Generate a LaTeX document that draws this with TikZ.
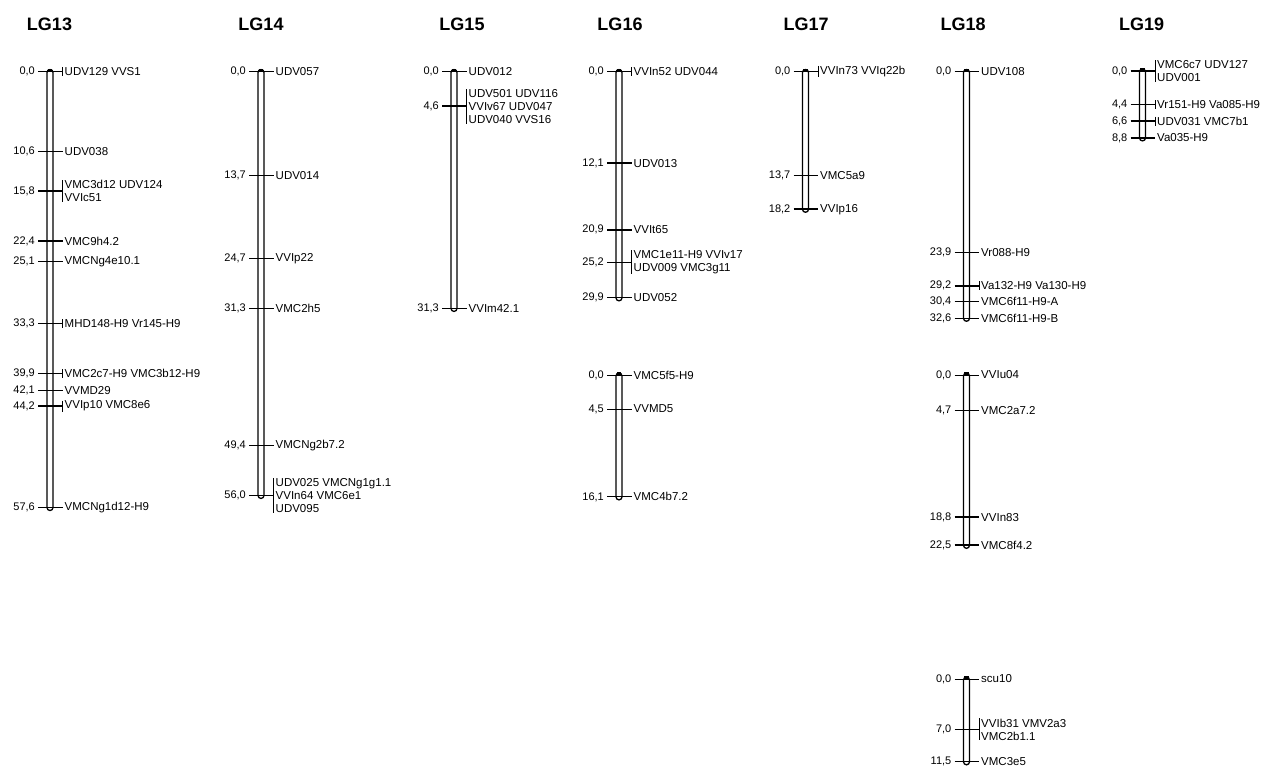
\documentclass[tikz,border=0pt]{standalone}
\usepackage{fontspec}
\setmainfont{Liberation Sans}
\usetikzlibrary{calc}
\tikzset{
  num/.style={font=\fontsize{11}{13}\selectfont, inner sep=0pt, anchor=east},
  lab/.style={font=\fontsize{11.5}{13}\selectfont, inner sep=0pt, anchor=west, align=left},
  lgtitle/.style={font=\fontsize{18}{20}\selectfont\bfseries, inner sep=0pt},
  tk/.style={line width=1pt},
  tkb/.style={line width=1.8pt},
  chrom/.style={line width=1.3pt, rounded corners=3pt},
  cbar/.style={line width=1pt},
}
\newcommand\setchr[3]{\def\cx{#1}\def\yo{#2}\def\sc{#3}}
\newcommand\chrbody[1]{%
  \pgfmathsetmacro\yend{\yo+\sc*#1}%
  \draw[chrom] (\cx-3,\yo-2) rectangle (\cx+3,\yend+3);
  \fill (\cx-2.2,\yo-2.6) rectangle (\cx+2.2,\yo);
}
\newcommand\mrk[6]{%
  \pgfmathsetmacro\yy{\yo+\sc*#2}%
  \coordinate (#1a) at (\cx-12,\yy);
  \coordinate (#1b) at (\cx+12.5,\yy);
  \draw[#5] (#1a) -- (#1b);
  \node[num] (#1n) at (\cx-15,\yy) {#3};
  \node[lab] (#1t) at (\cx+14.5,\yy) {#4};
  \ifnum#6=1\relax \draw[cbar] ([xshift=-2pt]#1t.north west) -- ([xshift=-2pt]#1t.south west);\fi
}
\begin{document}
\begin{tikzpicture}[x=1pt,y=-1pt]
\useasboundingbox (0,0) rectangle (1263,771);
% titles
\node[lgtitle] (t13) at (49.5,24) {LG13};
\node[lgtitle] (t14) at (261,24) {LG14};
\node[lgtitle] (t15) at (462,24) {LG15};
\node[lgtitle] (t16) at (620,24) {LG16};
\node[lgtitle] (t17) at (806,24) {LG17};
\node[lgtitle] (t18) at (963,24) {LG18};
\node[lgtitle] (t19) at (1141.5,24) {LG19};
% LG13
\setchr{50}{71.5}{7.57}
\chrbody{57.6}
\mrk{pa}{0}{0,0}{UDV129 VVS1}{tkb}{1}
\mrk{pb}{10.6}{10,6}{UDV038}{tk}{0}
\mrk{pc}{15.8}{15,8}{VMC3d12 UDV124\\VVIc51}{tkb}{1}
\mrk{pd}{22.4}{22,4}{VMC9h4.2}{tkb}{0}
\mrk{pe}{25.1}{25,1}{VMCNg4e10.1}{tk}{0}
\mrk{pf}{33.3}{33,3}{MHD148-H9 Vr145-H9}{tkb}{1}
\mrk{pg}{39.9}{39,9}{VMC2c7-H9 VMC3b12-H9}{tkb}{1}
\mrk{ph}{42.1}{42,1}{VVMD29}{tk}{0}
\mrk{pi}{44.2}{44,2}{VVIp10 VMC8e6}{tkb}{1}
\mrk{pj}{57.6}{57,6}{VMCNg1d12-H9}{tk}{0}
% LG14
\setchr{261}{71.5}{7.57}
\chrbody{56.0}
\mrk{qa}{0}{0,0}{UDV057}{tkb}{0}
\mrk{qb}{13.7}{13,7}{UDV014}{tk}{0}
\mrk{qc}{24.7}{24,7}{VVIp22}{tkb}{0}
\mrk{qd}{31.3}{31,3}{VMC2h5}{tk}{0}
\mrk{qe}{49.4}{49,4}{VMCNg2b7.2}{tk}{0}
\mrk{qf}{56.0}{56,0}{UDV025 VMCNg1g1.1\\VVIn64 VMC6e1\\UDV095}{tk}{1}
% LG15
\setchr{454}{71.5}{7.57}
\chrbody{31.3}
\mrk{ra}{0}{0,0}{UDV012}{tkb}{0}
\mrk{rb}{4.6}{4,6}{UDV501 UDV116\\VVIv67 UDV047\\UDV040 VVS16}{tkb}{1}
\mrk{rc}{31.3}{31,3}{VVIm42.1}{tk}{0}
% LG16
\setchr{619}{71.5}{7.57}
\chrbody{29.9}
\mrk{sa}{0}{0,0}{VVIn52 UDV044}{tkb}{1}
\mrk{sb}{12.1}{12,1}{UDV013}{tkb}{0}
\mrk{sc}{20.9}{20,9}{VVIt65}{tkb}{0}
\mrk{sd}{25.2}{25,2}{VMC1e11-H9 VVIv17\\UDV009 VMC3g11}{tk}{1}
\mrk{se}{29.9}{29,9}{UDV052}{tk}{0}
\setchr{619}{375}{7.57}
\chrbody{16.1}
\mrk{sf}{0}{0,0}{VMC5f5-H9}{tk}{0}
\mrk{sg}{4.5}{4,5}{VVMD5}{tk}{0}
\mrk{sh}{16.1}{16,1}{VMC4b7.2}{tk}{0}
% LG17
\setchr{805.5}{71.5}{7.57}
\chrbody{18.2}
\mrk{ua}{0}{0,0}{VVIn73 VVIq22b}{tkb}{1}
\mrk{ub}{13.7}{13,7}{VMC5a9}{tk}{0}
\mrk{uc}{18.2}{18,2}{VVIp16}{tkb}{0}
% LG18
\setchr{966.5}{71.5}{7.57}
\chrbody{32.6}
\mrk{va}{0}{0,0}{UDV108}{tk}{0}
\mrk{vb}{23.9}{23,9}{Vr088-H9}{tk}{0}
\mrk{vc}{28.3}{29,2}{Va132-H9 Va130-H9}{tkb}{1}
\mrk{vd}{30.4}{30,4}{VMC6f11-H9-A}{tk}{0}
\mrk{ve}{32.6}{32,6}{VMC6f11-H9-B}{tk}{0}
\setchr{966.5}{375}{7.57}
\chrbody{22.5}
\mrk{vf}{0}{0,0}{VVIu04}{tk}{0}
\mrk{vg}{4.7}{4,7}{VMC2a7.2}{tk}{0}
\mrk{vh}{18.8}{18,8}{VVIn83}{tkb}{0}
\mrk{vi}{22.5}{22,5}{VMC8f4.2}{tkb}{0}
\setchr{966.5}{679}{7.2}
\chrbody{11.5}
\mrk{vj}{0}{0,0}{scu10}{tk}{0}
\mrk{vk}{7.0}{7,0}{VVIb31 VMV2a3\\VMC2b1.1}{tk}{1}
\mrk{vl}{11.5}{11,5}{VMC3e5}{tk}{0}
% LG19
\setchr{1142.5}{71}{7.6}
\chrbody{8.8}
\mrk{wa}{0}{0,0}{VMC6c7 UDV127\\UDV001}{tkb}{1}
\mrk{wb}{4.4}{4,4}{Vr151-H9 Va085-H9}{tk}{1}
\mrk{wc}{6.6}{6,6}{UDV031 VMC7b1}{tkb}{1}
\mrk{wd}{8.8}{8,8}{Va035-H9}{tkb}{0}
\end{tikzpicture}
\end{document}
